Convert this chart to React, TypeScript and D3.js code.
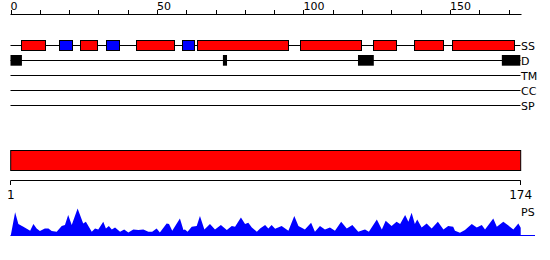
import React from "react";
import * as d3 from "d3";

const W = 550;
const H = 260;

const seqLength = 174;
const topTicks = d3.range(0, 171, 10);
const topLabels = [0, 50, 100, 150];

// Secondary structure: [type, start, end] (H = helix red, E = strand blue)
const ssTypes = ["H", "E", "H", "E", "H", "E", "H", "H", "H", "H", "H"];
const ssStarts = [3.7, 16.6, 23.8, 32.6, 42.9, 58.6, 63.7, 98.9, 123.8, 137.8, 150.7];
const ssEnds = [12.0, 20.9, 29.75, 36.9, 56.0, 62.8, 94.8, 119.8, 131.6, 147.7, 171.9];

// Disorder segments
const dStarts = [0, 72.5, 118.6, 167.7];
const dEnds = [3.9, 73.9, 124.0, 174.0];

const trackLabels = ["SS", "D", "TM", "CC", "SP"];

// PS profile: residue position and score
const psPos = [1, 2.5, 3.6, 5.3, 7.6, 8.7, 9.8, 10.9, 12.6, 13.8, 14.9, 16.6, 18.3, 19.4, 20.5, 21.7, 23.7, 25.6, 26.5, 28.5, 29.6, 30.7, 32.4, 33.3, 34.3, 35.3, 36.4, 38.1, 39.5, 40.9, 42.6, 44.3, 46.0, 47.7, 49.0, 50.5, 51.6, 53.9, 54.7, 55.8, 58.4, 59.6, 60.1, 61.0, 62.4, 64.1, 65.2, 66.7, 68.6, 70.3, 72.3, 74.3, 76.0, 77.1, 79.1, 80.5, 81.6, 82.8, 84.5, 85.6, 87.3, 88.4, 89.5, 90.7, 92.9, 95.2, 97.2, 98.6, 100.8, 102.9, 104.2, 105.9, 107.6, 109.3, 111.0, 113.1, 115.0, 116.9, 118.9, 120.6, 121.2, 122.5, 125.2, 126.9, 128.2, 130.2, 131.9, 133.1, 134.8, 135.9, 137.0, 138.1, 138.9, 140.4, 142.1, 143.8, 145.9, 147.8, 149.4, 151.1, 151.7, 153.4, 155.1, 157.4, 159.1, 160.8, 161.9, 164.7, 165.9, 168.1, 169.6, 171.5, 173.2, 174];
const psVal = [0, 23.5, 11.7, 9, 5, 11.7, 7.3, 4.7, 7.3, 7.3, 4.7, 4, 9.7, 10.7, 20.7, 10.7, 27.3, 12.3, 14, 4, 7.3, 6.3, 14, 7.3, 9.7, 6.3, 8.3, 4, 6.3, 3.3, 6.3, 5.7, 6.3, 4, 4, 7.3, 3.3, 12.3, 11.7, 5, 17.3, 5.7, 6.3, 4, 9, 9.7, 19.7, 6.3, 11.7, 6.3, 10.7, 5.7, 9.7, 9, 18.3, 11.7, 13, 8.3, 4, 7.3, 10.7, 7.3, 10.7, 7, 9.7, 5, 19.7, 9.7, 6.3, 13, 4, 9.7, 6.3, 8.3, 5, 14, 7.3, 10.7, 4, 5.7, 6.3, 4, 16.3, 6.3, 15, 9.7, 14, 11.7, 20.7, 14, 23, 11.7, 16.3, 8.3, 12.3, 7.3, 14, 6.3, 9.7, 9, 5, 3, 5.7, 11.7, 8.3, 10.7, 6.3, 17.3, 9, 14, 10.7, 6.3, 12.3, 8];

const FONT = "DejaVu Sans";

export default function App() {
  const xTop = d3.scaleLinear().domain([0, seqLength]).range([10.5, 520.3]);
  const xBot = d3.scaleLinear().domain([1, seqLength]).range([10.7, 520.7]);
  const yPs = d3.scaleLinear().domain([0, 30]).range([235.7, 205.7]);

  const trackY = [45.5, 60.5, 75.5, 90.5, 105.5];

  const area = d3
    .area<number>()
    .x((_, i) => xBot(psPos[i]))
    .y0(yPs(0))
    .y1((d) => yPs(d));

  const lineStart = 10.5;
  const lineEnd = 520.5;

  return (
    <svg
      width={W}
      height={H}
      style={{ position: "absolute", left: 0, top: 0, display: "block" }}
      fontFamily={FONT}
    >
      <rect x={0} y={0} width={W} height={H} fill="white" />
      {/* top axis */}
      <line x1={lineStart} x2={521.5} y1={14.5} y2={14.5} stroke="black" />
      {topTicks.map((t) => (
        <line key={t} x1={Math.round(xTop(t)) + 0.5} x2={Math.round(xTop(t)) + 0.5} y1={10} y2={14.5} stroke="black" />
      ))}
      {topLabels.map((t) => (
        <text key={t} x={xTop(t)} y={9.5} fontSize={11} fill="black">
          {t}
        </text>
      ))}

      {/* track lines */}
      {trackY.map((y, i) => (
        <g key={i}>
          <line x1={lineStart} x2={lineEnd} y1={y} y2={y} stroke="black" />
          <text x={521} y={y + 4} fontSize={11} fill="black">
            {trackLabels[i]}
          </text>
        </g>
      ))}

      {/* SS boxes */}
      {ssStarts.map((s, i) => (
        <rect
          key={i}
          x={Math.round(xTop(s)) + 0.5}
          y={40.5}
          width={Math.round(xTop(ssEnds[i]) - xTop(s))}
          height={10}
          fill={ssTypes[i] === "H" ? "#ff0000" : "#0000ff"}
          stroke="black"
        />
      ))}

      {/* Disorder boxes */}
      {dStarts.map((s, i) => (
        <rect
          key={i}
          x={xTop(s)}
          y={55}
          width={xTop(dEnds[i]) - xTop(s)}
          height={10.7}
          fill="black"
        />
      ))}

      {/* big domain bar */}
      <rect x={xBot(1)} y={150.5} width={xBot(seqLength) - xBot(1)} height={20} fill="#ff0000" stroke="black" />

      {/* bottom axis */}
      <line x1={xBot(1)} x2={xBot(seqLength)} y1={180.5} y2={180.5} stroke="black" />
      <line x1={10.5} x2={10.5} y1={180.5} y2={185} stroke="black" />
      <line x1={520.5} x2={520.5} y1={180.5} y2={185} stroke="black" />
      <text x={xBot(1)} y={199.3} fontSize={12} textAnchor="middle" fill="black">
        1
      </text>
      <text x={xBot(seqLength)} y={199.3} fontSize={12} textAnchor="middle" fill="black">
        {seqLength}
      </text>

      {/* PS profile */}
      <path d={area(psVal) || ""} fill="#0000ff" />
      <line x1={10.5} x2={535} y1={235.5} y2={235.5} stroke="#0000ff" />
      <text x={521} y={215.5} fontSize={11} fill="black">
        PS
      </text>
    </svg>
  );
}
